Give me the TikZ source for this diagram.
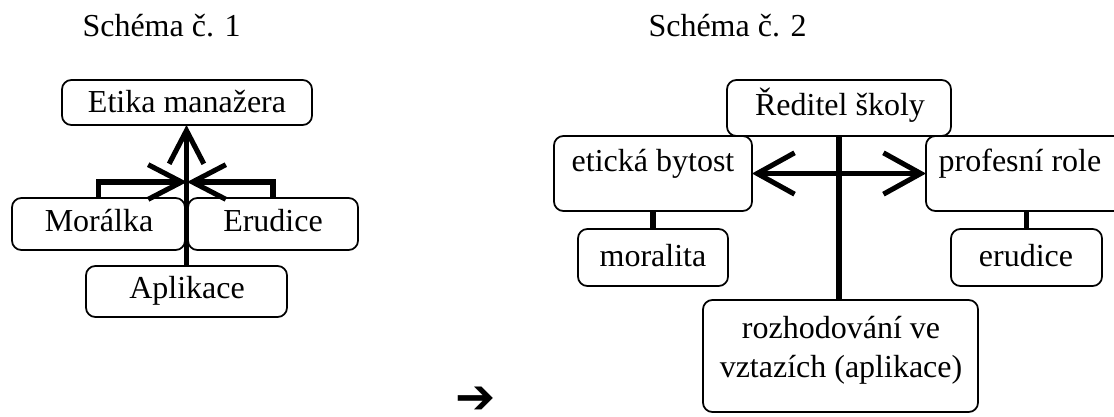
\documentclass[tikz,border=0pt]{standalone}
\usepackage{fontspec}
\setmainfont{Liberation Serif}
\newfontfamily\symfont{DejaVu Sans}
\usetikzlibrary{arrows.meta}

\tikzset{
  box/.style={draw, line width=0.65pt, rounded corners=3.5pt, inner sep=0pt, outer sep=0pt},
  txt/.style={inner sep=0pt, anchor=base, font=\fontsize{12}{14}\selectfont},
  link/.style={line width=1.9pt},
  barb/.style={link, -{Straight Barb[length=12.5pt,width=13pt]}},
  dblbarb/.style={link, {Straight Barb[length=14pt,width=15.5pt]}-{Straight Barb[length=14pt,width=15.5pt]}},
}

% box given by its corners in pixel units
\newcommand\pxbox[5]{%
  \node[box, minimum width={(#4-#2)*0.375pt}, minimum height={(#5-#3)*0.375pt}]
    (#1) at ({(#2+#4)/2},{(#3+#5)/2}) {};}

\begin{document}
\begin{tikzpicture}[x=0.375pt, y=-0.375pt]
\useasboundingbox (0,0) rectangle (1114,417);

% ---------- Schéma č. 1 ----------
\node[txt, anchor=base west] (title1) at (82,37) {Schéma č. 1};

\pxbox{etika}{62}{80}{312}{125}
\pxbox{moralka}{12}{198}{185}{250}
\pxbox{erudice}{188}{198}{358}{250}
\pxbox{aplikace}{86}{266}{287}{317}

\node[txt] (t-etika) at (187,113) {Etika manažera};
\node[txt] (t-moralka) at (99,232) {Morálka};
\node[txt] (t-erudice) at (273,232) {Erudice};
\node[txt] (t-aplikace) at (187,298) {Aplikace};

\coordinate (meet) at (187,182);
\draw[barb] (moralka.north) |- (meet);
\draw[barb] (erudice.north) |- (meet);
\draw[barb] (aplikace.north) -- (aplikace.north |- etika.south);

% ---------- Schéma č. 2 ----------
\node[txt, anchor=base west] (title2) at (648,37) {Schéma č. 2};

\pxbox{reditel}{727}{80}{951}{136}
\pxbox{eticka}{554}{136}{752}{211}
\pxbox{profesni}{926}{136}{1125}{211}
\pxbox{moralita}{578}{229}{728}{286}
\pxbox{erudice2}{951}{229}{1102}{286}
\pxbox{rozhod}{703}{300}{978}{412}

\node[txt] (t-reditel) at (840,116) {Ředitel školy};
\node[txt] (t-eticka) at (653,172) {etická bytost};
\node[txt] (t-profesni) at (1020,172) {profesní role};
\node[txt] (t-moralita) at (653,266) {moralita};
\node[txt] (t-erudice2) at (1026,266) {erudice};
\node[txt] (t-rozhod1) at (841,338) {rozhodování ve};
\node[txt] (t-rozhod2) at (841,377) {vztazích (aplikace)};

\draw[link] (reditel.south) -- (reditel.south |- rozhod.north);
\draw[dblbarb] (eticka.east) -- (profesni.west);
\draw[link] (eticka.south) -- (moralita.north);
\draw[link] (erudice2.north |- profesni.south) -- (erudice2.north);

% ---------- loose arrow sign ----------
\node[inner sep=0pt, font=\symfont\fontsize{18}{20}\selectfont] (sign) at (476,400) {➔};
\end{tikzpicture}
\end{document}
